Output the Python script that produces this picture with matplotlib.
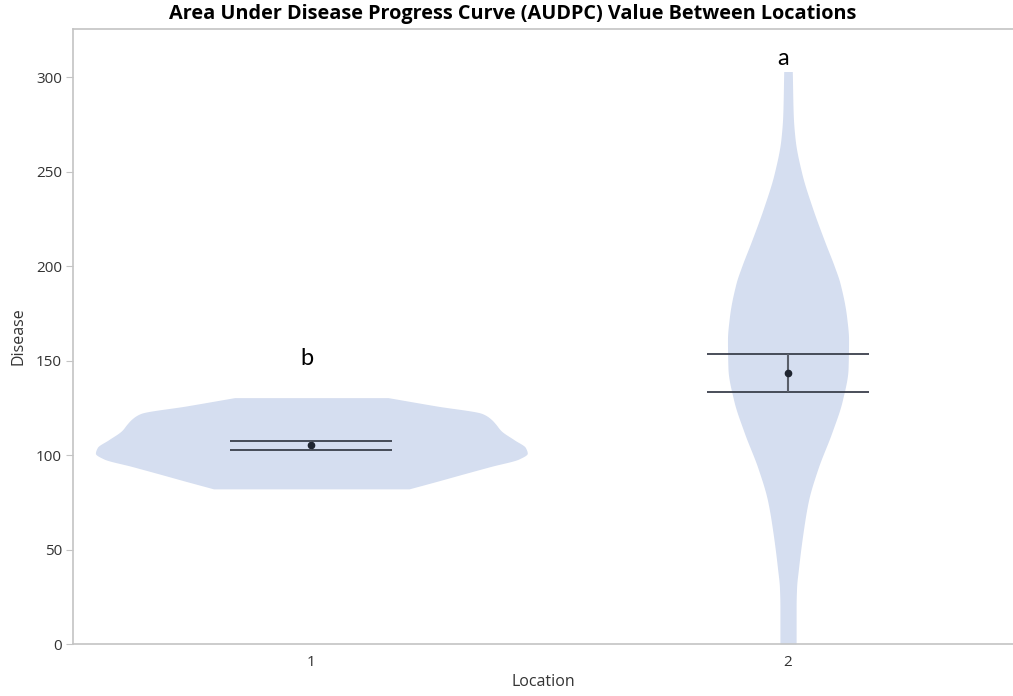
import matplotlib
matplotlib.use("Agg")
import matplotlib.pyplot as plt
import numpy as np

# ---- data ----
locations = [1, 2]
tick_labels = ["1", "2"]
group_letters = ["b", "a"]
letter_y = [151, 310]

# violin outlines: disease value levels and half-widths (x-axis units)
v1_levels = [82.1, 86, 90, 94, 98, 101, 104, 108, 112.9, 116.6, 119, 122, 126, 130.4]
v1_halfw = [0.205, 0.262, 0.319, 0.377, 0.436, 0.453, 0.449, 0.426, 0.398, 0.386, 0.377, 0.358, 0.262, 0.161]

v2_levels = [0, 20, 30, 40, 58, 76, 93, 112, 129, 146, 161, 173, 191, 200, 213, 231, 249, 267, 280, 303]
v2_halfw = [0.017, 0.017, 0.018, 0.022, 0.031, 0.043, 0.063, 0.092, 0.114, 0.126, 0.127, 0.123, 0.109, 0.097, 0.077, 0.051, 0.029, 0.015, 0.011, 0.009]

means = [105.5, 143.6]
upper = [107.6, 153.7]
lower = [102.8, 133.5]

yticks = [0, 50, 100, 150, 200, 250, 300]


def smooth_outline(x, y, n=400):
    """Monotone cubic (Fritsch-Carlson) curve through the read points."""
    x = np.asarray(x, float)
    y = np.asarray(y, float)
    h = np.diff(x)
    d = np.diff(y) / h
    m = np.zeros_like(y)
    m[0], m[-1] = d[0], d[-1]
    for i in range(1, len(y) - 1):
        if d[i - 1] * d[i] <= 0:
            m[i] = 0
        else:
            w1 = 2 * h[i] + h[i - 1]
            w2 = h[i] + 2 * h[i - 1]
            m[i] = (w1 + w2) / (w1 / d[i - 1] + w2 / d[i])
    xs = np.linspace(x[0], x[-1], n)
    idx = np.clip(np.searchsorted(x, xs) - 1, 0, len(x) - 2)
    t = (xs - x[idx]) / h[idx]
    h00 = 2 * t**3 - 3 * t**2 + 1
    h10 = t**3 - 2 * t**2 + t
    h01 = -2 * t**3 + 3 * t**2
    h11 = t**3 - t**2
    ys = h00 * y[idx] + h10 * h[idx] * m[idx] + h01 * y[idx + 1] + h11 * h[idx] * m[idx + 1]
    return xs, ys


# ---- figure ----
plt.rcParams['font.family'] = ['Open Sans', 'DejaVu Sans']
fig = plt.figure(figsize=(10.13, 6.96), dpi=100)
ax = fig.add_axes([73/1013, 1 - 644/696, 1 - 73/1013, (644 - 29)/696])

fill_c = '#d5def0'
line_c = '#3b404c'

outlines = [(v1_levels, v1_halfw), (v2_levels, v2_halfw)]
for x, (lv, hw) in zip(locations, outlines):
    ys, ws = smooth_outline(lv, hw)
    ax.fill_betweenx(ys, x - ws, x + ws, color=fill_c, lw=0, zorder=1)

bar_half = 0.17
for x, m, u, l in zip(locations, means, upper, lower):
    ax.hlines([u, l], x - bar_half, x + bar_half, color=line_c, lw=1.3, zorder=3)
    ax.vlines(x, l, u, color='#5a5f6a', lw=1.5, zorder=3)
    ax.plot([x], [m], 'o', color='#1f2530', ms=4.5, zorder=4)

for x, t, y in zip(locations, group_letters, letter_y):
    ax.text(x - 0.01, y, t, ha='center', va='center', fontsize=17,
            family=['Lato', 'DejaVu Sans'], color='black')

ax.set_xlim(0.5, 2.472)
ax.set_ylim(0, 325.5)
ax.set_xticks(locations)
ax.set_xticklabels(tick_labels)
ax.set_yticks(yticks)

for s in ['left', 'bottom', 'top']:
    ax.spines[s].set_color('#c4c4c4')
    ax.spines[s].set_linewidth(1.2)
ax.spines['right'].set_visible(False)

ax.tick_params(axis='y', length=5, color='#c4c4c4', labelsize=11, labelcolor='#333333', pad=3)
ax.tick_params(axis='x', length=0, labelsize=11, labelcolor='#333333', pad=8)

ax.set_ylabel('Disease', fontsize=11.5, color='#333333', labelpad=7)
ax.set_xlabel('Location', fontsize=11.5, color='#333333', labelpad=3)
fig.suptitle('Area Under Disease Progress Curve (AUDPC) Value Between Locations',
             x=513/1013, y=1 - 4/696, va='top', fontsize=14.3, fontweight='bold', color='black')

fig.savefig('out.png', dpi=100)
